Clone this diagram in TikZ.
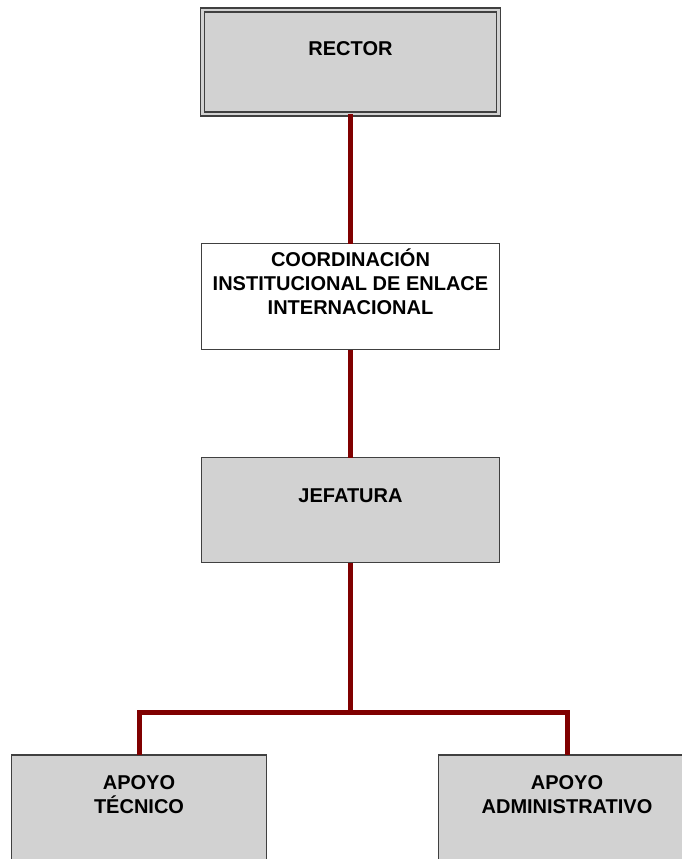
\documentclass[tikz,border=0pt]{standalone}
\usepackage{fontspec}
\setmainfont{Liberation Sans}
\definecolor{boxfill}{HTML}{D2D2D2}
\definecolor{boxline}{HTML}{404040}
\definecolor{linkred}{HTML}{800000}
% keeps every text block's height/depth uniform so centring lines up on the capitals
\newcommand\lineguard{\vphantom{Óg}}
\begin{document}
\begin{tikzpicture}[x=1pt,y=-1pt,
  unit/.style={draw=boxline, line width=1.3pt, fill=boxfill, inner sep=0pt, outer sep=0pt},
  plainunit/.style={unit, fill=white},
  caption/.style={font=\fontsize{20}{24}\selectfont\bfseries, align=center, inner sep=0pt},
  link/.style={draw=linkred, line width=5pt}]
\fill[white] (0,0) rectangle (682,859);
\useasboundingbox (0,0) rectangle (682,859);
\clip (0,0) rectangle (682,859);

% boxes
\node[unit, double=boxfill, double distance=2.8pt, line width=1.2pt,
      minimum width=296pt, minimum height=104pt] (rector) at (350.5,62) {};
\node[plainunit, minimum width=298pt, minimum height=106pt] (coord) at (350.5,296.5) {};
\node[unit, minimum width=298pt, minimum height=105pt] (jef) at (350.5,510) {};
\node[unit, minimum width=255pt, minimum height=200pt] (tec) at (139,855) {};
\node[unit, minimum width=257pt, minimum height=200pt] (adm) at (567,855) {};

% captions
\node[caption] (rector-t) at (350.5,49) {\lineguard RECTOR};
\node[caption] (coord-t) at (350.5,284) {\lineguard COORDINACIÓN\\INSTITUCIONAL DE ENLACE\\INTERNACIONAL\lineguard};
\node[caption] (jef-t) at (350.5,496) {\lineguard JEFATURA};
\node[caption] (tec-t) at (139,795) {\lineguard APOYO\\TÉCNICO\lineguard};
\node[caption] (adm-t) at (567,795) {\lineguard APOYO\\ADMINISTRATIVO\lineguard};

% connectors
\coordinate (bus) at (350.5,712);
\draw[link] (rector.south) -- (coord.north);
\draw[link] (coord.south) -- (jef.north);
\draw[link] (jef.south) -- (bus);
\draw[link] (tec.north) |- (bus) -| (adm.north);
\end{tikzpicture}
\end{document}
